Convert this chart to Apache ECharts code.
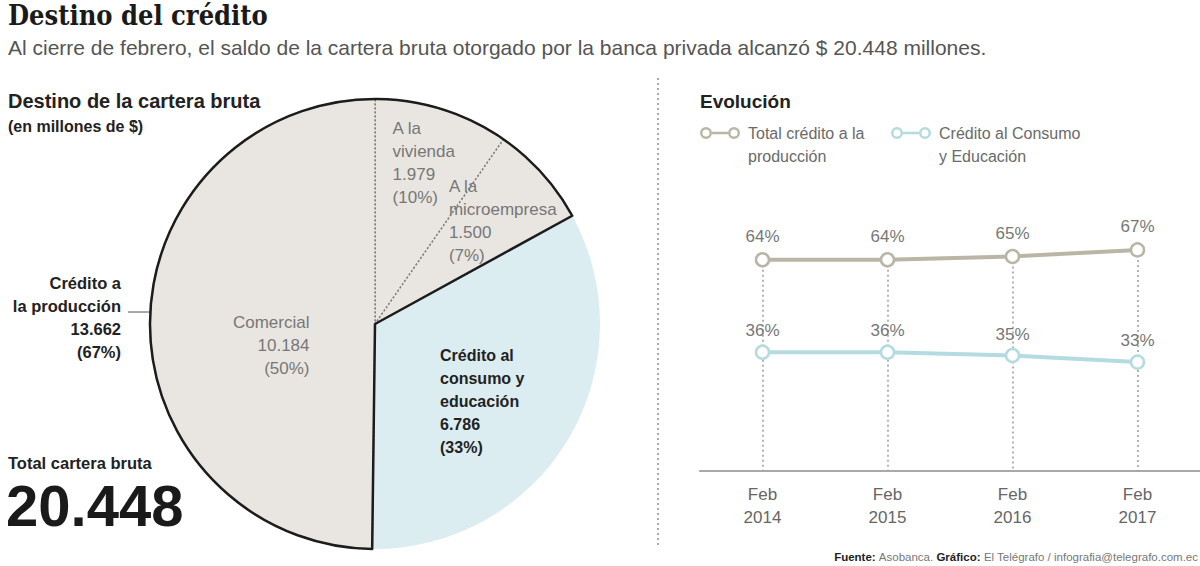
<!DOCTYPE html>
<html>
<head>
<meta charset="utf-8">
<script src="https://cdn.jsdelivr.net/npm/echarts@6/dist/echarts.min.js"></script>
<style>
  html, body { margin: 0; padding: 0; background: #fff; }
  #chart { width: 1200px; height: 566px; }
</style>
</head>
<body>
<div id="chart"></div>
<script>
// datos de la torta (en millones de $), en el orden del reloj desde las 12
var pieNames = ['A la\nvivienda', 'A la\nmicroempresa', 'Crédito al\nconsumo y\neducación', 'Comercial'];
var pieValues = [1979, 1500, 6786, 10184];
// grupos grandes
var groupNames = ['Crédito a la producción', 'Crédito al consumo y educación'];
var groupValues = [13662, 6786];
var totalCartera = 20448;

// evolucion (%)
var years = ['Feb\n2014', 'Feb\n2015', 'Feb\n2016', 'Feb\n2017'];
var produccion = [64, 64, 65, 67];
var consumo = [36, 36, 35, 33];
var lineNames = ['Total crédito a la\nproducción', 'Crédito al Consumo\ny Educación'];

var FONT = '"Liberation Sans", Arial, sans-serif';
var gris = '#e9e6e1';
var celeste = '#dcedf1';
var colProd = '#bab6a6';
var colCons = '#b4dbdf';

// 1979 -> 1.979
function fmt(v) {
  return String(v).replace(/\B(?=(\d{3})+(?!\d))/g, '.');
}

var pieSum = pieValues.reduce(function (a, b) { return a + b; }, 0);
var pctProd = Math.round(groupValues[0] / totalCartera * 100);

// desplazamiento de las etiquetas dentro de la torta
var labelShift = [[-17, -51, 'left'], [-12, -26, 'left'], [-34, 18, 'left'], [50, 22, 'right']];

// icono de leyenda: circulo - linea - circulo, con un trazo vacio abajo
// para que el icono quede alineado con la primera linea del texto
var legendIcon = 'path://M0,6A6,6,0,1,1,12,6A6,6,0,1,1,0,6ZM2.5,6A3.5,3.5,0,1,0,9.5,6A3.5,3.5,0,1,0,2.5,6Z' +
  'M12,4.8L28,4.8L28,7.2L12,7.2Z' +
  'M28,6A6,6,0,1,1,40,6A6,6,0,1,1,28,6ZM30.5,6A3.5,3.5,0,1,0,37.5,6A3.5,3.5,0,1,0,30.5,6Z' +
  'M0,35L40,35';

var chart = echarts.init(document.getElementById('chart'), null, { renderer: 'svg' });

function legendFor(i, left, color) {
  return {
    left: left, top: 121.5,
    padding: 0,
    itemWidth: 40, itemHeight: 35,
    selectedMode: false,
    data: [{ name: lineNames[i], icon: legendIcon, itemStyle: { color: color, borderWidth: 0 } }],
    textStyle: { fontSize: 16, color: '#6a6a6a', lineHeight: 23, padding: [0, 0, 0, 3] }
  };
}

var option = {
  animation: false,
  backgroundColor: '#fff',
  textStyle: { fontFamily: FONT },
  grid: { left: 700, width: 500, top: 141, bottom: 95 },
  xAxis: {
    type: 'category',
    data: years,
    boundaryGap: true,
    axisLine: { lineStyle: { color: '#a9a9a9', width: 2 } },
    axisTick: { show: false },
    axisLabel: { color: '#666', fontSize: 17, lineHeight: 23, margin: 12 }
  },
  yAxis: { type: 'value', min: 0, max: 100, show: false },
  legend: [legendFor(0, 700, colProd), legendFor(1, 891, colCons)],
  series: [
    {
      // torta con las cuatro porciones
      type: 'pie',
      center: [375, 324],
      radius: 225,
      startAngle: 90,
      clockwise: true,
      avoidLabelOverlap: false,
      emphasis: { disabled: true },
      silent: true,
      data: pieNames.map(function (n, i) {
        var azul = i === 2;
        return {
          name: n,
          value: pieValues[i],
          itemStyle: azul
            ? { color: celeste, borderWidth: 0 }
            : { color: gris, borderColor: '#808080', borderWidth: 1.5, borderType: [2, 2] },
          label: azul
            ? { color: '#222', fontWeight: 'bold', fontSize: 16 }
            : { color: '#777', fontSize: 17 }
        };
      }),
      label: {
        show: true,
        position: 'inside',
        lineHeight: 23,
        formatter: function (p) {
          return p.name + '\n' + fmt(p.value) + '\n(' + Math.round(p.percent) + '%)';
        }
      },
      labelLine: { show: false },
      labelLayout: function (p) {
        var s = labelShift[p.dataIndex];
        return { dx: s[0], dy: s[1], align: s[2] };
      }
    },
    {
      // borde negro del grupo produccion
      type: 'pie',
      center: [375, 324],
      radius: 225,
      startAngle: 90 - (pieValues[0] + pieValues[1]) / pieSum * 360,
      clockwise: true,
      emphasis: { disabled: true },
      silent: true,
      label: { show: false },
      labelLine: { show: false },
      data: [1, 0].map(function (i) {
        return {
          name: groupNames[i],
          value: groupValues[i],
          itemStyle: i === 0
            ? { color: 'rgba(0,0,0,0)', borderColor: '#1c1c1c', borderWidth: 2.5 }
            : { color: 'rgba(0,0,0,0)', borderWidth: 0 }
        };
      })
    },
    {
      name: lineNames[0],
      type: 'line',
      data: produccion,
      z: 3,
      symbol: 'circle',
      symbolSize: 13,
      lineStyle: { color: colProd, width: 4 },
      itemStyle: { color: '#fff', borderColor: colProd, borderWidth: 2.5 },
      label: {
        show: true, position: 'top', distance: 7,
        color: '#777', fontSize: 17,
        formatter: function (p) { return p.value + '%'; }
      },
      markLine: {
        silent: true,
        z: 1,
        symbol: ['none', 'none'],
        label: { show: false },
        lineStyle: { color: '#9a9a9a', type: [2, 3], width: 1.5 },
        data: years.map(function (c, i) {
          return [{ coord: [c, produccion[i]] }, { coord: [c, 0] }];
        })
      }
    },
    {
      name: lineNames[1],
      type: 'line',
      data: consumo,
      z: 3,
      symbol: 'circle',
      symbolSize: 13,
      lineStyle: { color: colCons, width: 4 },
      itemStyle: { color: '#fff', borderColor: colCons, borderWidth: 2.5 },
      label: {
        show: true, position: 'top', distance: 5,
        color: '#777', fontSize: 17,
        formatter: function (p) { return p.value + '%'; }
      }
    }
  ],
  graphic: [
    { type: 'text', x: 8, y: 15, style: { text: 'Destino del crédito', font: 'bold 27px "DejaVu Serif Condensed", "DejaVu Serif", serif', fill: '#1a1a1a', verticalAlign: 'middle' } },
    { type: 'text', x: 8, y: 47, style: { text: 'Al cierre de febrero, el saldo de la cartera bruta otorgado por la banca privada alcanzó $ ' + fmt(totalCartera) + ' millones.', font: '21px ' + FONT, fill: '#555', verticalAlign: 'middle' } },
    { type: 'text', x: 8, y: 101, style: { text: 'Destino de la cartera bruta', font: 'bold 20px ' + FONT, fill: '#222', verticalAlign: 'middle' } },
    { type: 'text', x: 8, y: 126, style: { text: '(en millones de $)', font: 'bold 16px ' + FONT, fill: '#222', verticalAlign: 'middle' } },
    { type: 'text', x: 121, y: 317, style: { text: 'Crédito a\nla producción\n' + fmt(groupValues[0]) + '\n(' + pctProd + '%)', font: 'bold 16.5px ' + FONT, lineHeight: 23, fill: '#222', align: 'right', verticalAlign: 'middle' } },
    { type: 'line', shape: { x1: 128, y1: 312, x2: 153, y2: 312 }, style: { stroke: '#555', lineWidth: 1 } },
    { type: 'text', x: 8, y: 463, style: { text: 'Total cartera bruta', font: 'bold 16.5px ' + FONT, fill: '#222', verticalAlign: 'middle' } },
    { type: 'text', x: 6, y: 505, style: { text: fmt(totalCartera), font: 'bold 58px ' + FONT, fill: '#1a1a1a', verticalAlign: 'middle' } },
    { type: 'line', shape: { x1: 658, y1: 78, x2: 658, y2: 548 }, style: { stroke: '#aaa', lineWidth: 2, lineDash: [2, 3] } },
    { type: 'text', x: 700, y: 101, style: { text: 'Evolución', font: 'bold 19px ' + FONT, fill: '#222', verticalAlign: 'middle' } },
    {
      type: 'text', x: 1198, y: 557,
      style: {
        text: '{b|Fuente:} Asobanca. {b|Gráfico:} El Telégrafo / infografia@telegrafo.com.ec',
        font: '11.5px ' + FONT, fill: '#777', align: 'right', verticalAlign: 'middle',
        rich: { b: { fontWeight: 'bold', fill: '#222', fontSize: 11.5, fontFamily: FONT } }
      }
    }
  ]
};

chart.setOption(option);
</script>
</body>
</html>
